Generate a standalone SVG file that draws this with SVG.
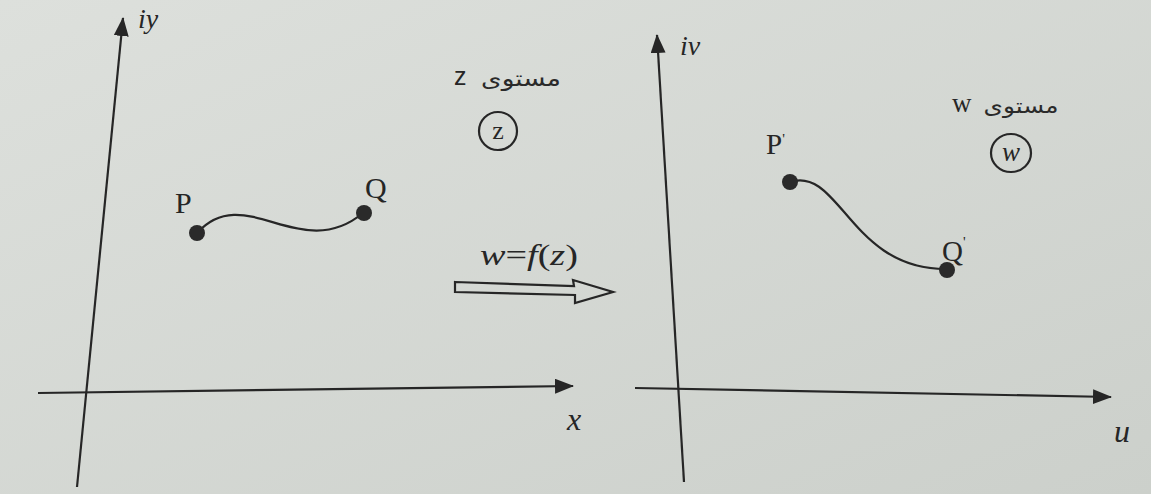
<svg xmlns="http://www.w3.org/2000/svg" width="1151" height="494" viewBox="0 0 1151 494">
<style>
.ln{stroke:#262626;stroke-width:2.2;fill:none}
.dot{fill:#2a2a2a}
.lbl{font-family:"Liberation Serif","DejaVu Serif",serif;fill:#262626}
.it{font-style:italic}
.ar{font-family:"DejaVu Sans","Noto Sans",sans-serif;fill:#2a2a2a}
.ax{stroke:#262626;stroke-width:2.2;fill:none;marker-end:url(#ah)}
</style>
<defs>
<linearGradient id="bg" x1="0" y1="0" x2="1" y2="1">
<stop offset="0" stop-color="#dde0dc"/>
<stop offset="1" stop-color="#ccd0cb"/>
</linearGradient>
<marker id="ah" markerUnits="userSpaceOnUse" markerWidth="20" markerHeight="16" refX="18" refY="7.5" orient="auto">
<path d="M0,0 L19,7.5 L0,15 Z" fill="#262626"/>
</marker>
</defs>
<rect width="1151" height="494" fill="url(#bg)"/>

<g id="connectors">
<line id="z-y-axis" class="ax" x1="77" y1="487" x2="123" y2="18"/>
<line id="z-x-axis" class="ax" x1="38" y1="393" x2="573" y2="386"/>
<line id="w-y-axis" class="ax" x1="684" y1="482" x2="657" y2="35"/>
<line id="w-x-axis" class="ax" x1="635" y1="388" x2="1111" y2="397"/>
<path id="curve-PQ" class="ln" d="M197,233 C245,180 300,265 363,213"/>
<path id="curve-PQw" class="ln" d="M790,182 C840,166 850,270 947,269"/>
<polygon id="map-arrow" class="ln" stroke-linejoin="miter" points="455,282 574,286 573,280 613,292 575,303 575,295 455,292"/>
</g>

<g id="z-plane-labels">
<text class="lbl it" x="138" y="28" font-size="28">iy</text>
<text class="lbl it" x="567" y="430" font-size="32">x</text>
<text x="454" y="85" font-size="25" style="font-family:'Liberation Sans',sans-serif;fill:#262626">z</text>
<text class="ar" x="521" y="86" font-size="22" text-anchor="middle" textLength="80" lengthAdjust="spacingAndGlyphs">مستوی</text>
</g>
<g id="z-circle">
<circle cx="498" cy="131" r="19" class="ln" stroke-width="1.8"/>
<text class="lbl" x="498" y="139" font-size="26" text-anchor="middle">z</text>
</g>
<g id="node-P">
<circle class="dot" cx="197" cy="233" r="8"/>
<text class="lbl" x="175" y="213" font-size="30">P</text>
</g>
<g id="node-Q">
<circle class="dot" cx="364" cy="213" r="8"/>
<text class="lbl" x="365" y="198" font-size="30">Q</text>
</g>

<g id="mapping-label">
<text class="lbl" x="480" y="265" font-size="30" textLength="98" lengthAdjust="spacingAndGlyphs"><tspan class="it">w</tspan>=<tspan class="it">f</tspan>(<tspan class="it">z</tspan>)</text>
</g>

<g id="w-plane-labels">
<text class="lbl it" x="680" y="55" font-size="28">iv</text>
<text class="lbl it" x="1114" y="442" font-size="32">u</text>
<text class="lbl" x="952" y="112" font-size="27">w</text>
<text class="ar" x="1021" y="113" font-size="21" text-anchor="middle" textLength="75" lengthAdjust="spacingAndGlyphs">مستوی</text>
</g>
<g id="w-circle">
<ellipse cx="1011" cy="153" rx="20" ry="19" class="ln" stroke-width="1.8"/>
<text class="lbl it" x="1011" y="161" font-size="27" text-anchor="middle">w</text>
</g>
<g id="node-P-prime">
<circle class="dot" cx="790" cy="182" r="8"/>
<text class="lbl" x="766" y="154" font-size="29">P<tspan font-size="15" dy="-10">'</tspan></text>
</g>
<g id="node-Q-prime">
<circle class="dot" cx="947" cy="270" r="8"/>
<text class="lbl" x="942" y="261" font-size="29">Q<tspan font-size="15" dy="-14">'</tspan></text>
</g>
</svg>
